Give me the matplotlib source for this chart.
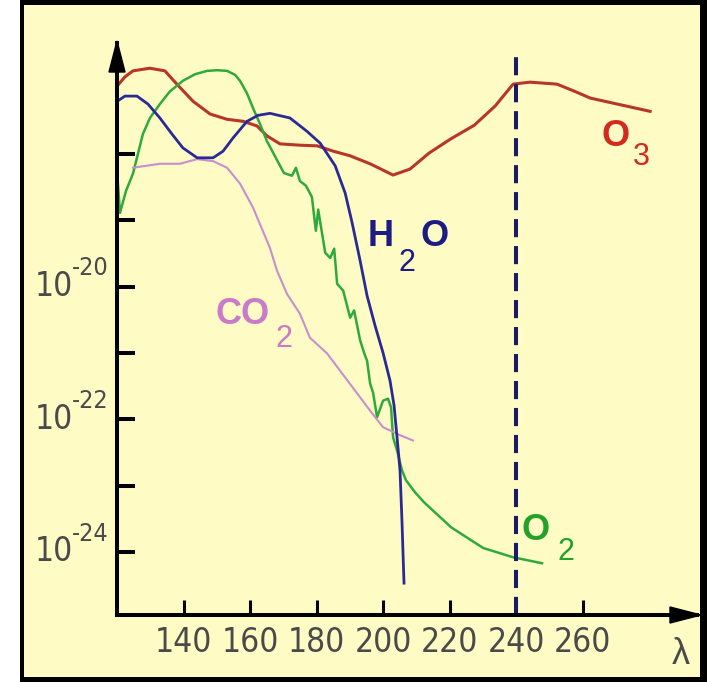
import matplotlib
matplotlib.use('Agg')
import matplotlib.pyplot as plt
from matplotlib.patches import Rectangle, Polygon
from matplotlib.transforms import blended_transform_factory
from matplotlib import font_manager

# wavelength (nm) and log10 of cross section
o3_wl = [120.0, 122.4, 124.8, 129.9, 134.4, 138.0, 142.9, 148.0, 153.1, 157.9, 162.1, 165.1,
         169.0, 175.0, 180.2, 185.0, 190.1, 196.1, 203.0, 208.1, 213.8, 220.2, 227.4, 233.7,
         239.1, 244.2, 252.3, 257.7, 262.3, 270.4, 280.3]
o3_log = [-16.98, -16.84, -16.75, -16.71, -16.75, -16.95, -17.21, -17.40, -17.48, -17.51, -17.58, -17.73,
          -17.85, -17.87, -17.88, -17.96, -18.03, -18.15, -18.32, -18.23, -17.99, -17.78, -17.57, -17.28,
          -16.95, -16.92, -16.95, -17.06, -17.16, -17.25, -17.36]

h2o_wl = [120.0, 122.4, 126.0, 129.3, 132.9, 136.5, 139.8, 144.1, 148.9, 151.9, 154.9, 159.1, 162.4,
          166.0, 172.0, 177.1, 181.1, 185.6, 188.6, 190.7, 193.1, 195.2, 197.6, 200.0, 202.1, 203.3,
          204.2, 205.1, 205.7, 206.3]
h2o_log = [-17.21, -17.13, -17.13, -17.25, -17.46, -17.70, -17.91, -18.06, -18.06, -17.96, -17.76, -17.51, -17.42,
           -17.39, -17.46, -17.66, -17.84, -18.18, -18.59, -19.04, -19.61, -20.14, -20.59, -21.00, -21.42, -21.79,
           -22.27, -22.77, -23.55, -24.47]

co2_wl = [124.8, 132.9, 138.9, 144.1, 148.9, 153.1, 157.0, 160.9, 166.0, 168.1, 171.1, 175.0, 178.0,
          183.2, 187.1, 192.2, 196.1, 200.0, 205.1, 209.0]
co2_log = [-18.21, -18.15, -18.15, -18.08, -18.11, -18.21, -18.45, -18.81, -19.42, -19.76, -20.11, -20.41, -20.77,
           -21.01, -21.27, -21.61, -21.87, -22.12, -22.24, -22.32]

o2_wl = [120.0, 120.9, 122.7, 124.8, 127.8, 129.9, 132.9, 135.9, 139.8, 143.5, 147.1, 150.1, 153.1, 155.5,
         157.0, 159.1, 160.9, 163.0, 165.1, 170.2, 172.6, 173.8, 175.0, 176.8, 178.6, 179.8, 180.5, 182.6,
         184.1, 185.3, 186.2, 188.0, 190.1, 191.3, 193.1, 194.3, 195.2, 196.1, 197.0, 198.2, 200.0, 201.5,
         202.4, 203.0, 204.2, 205.7, 206.9, 209.6, 212.3, 220.5, 230.1, 239.1, 247.8]
o2_log = [-18.26, -18.89, -18.56, -18.30, -17.70, -17.46, -17.25, -17.06, -16.90, -16.80, -16.75, -16.74, -16.75, -16.81,
          -16.90, -17.09, -17.31, -17.55, -17.81, -18.29, -18.33, -18.21, -18.41, -18.48, -18.65, -19.16, -18.84, -19.49,
          -19.57, -19.43, -19.96, -20.06, -20.47, -20.36, -20.81, -21.00, -21.12, -21.46, -21.60, -21.97, -21.72, -21.69,
          -21.82, -22.27, -22.47, -22.77, -22.92, -23.10, -23.25, -23.63, -23.94, -24.08, -24.17]

x_ticks = [140, 160, 180, 200, 220, 240, 260]
y_decades = [-24, -23, -22, -21, -20, -19, -18]
y_labelled = [-24, -22, -20]
dashed_wl = 240

W, H = 707, 682
sans = ['Liberation Sans', 'DejaVu Sans']
grey = '#4a4a4a'

# narrow face for the numbers
num_font = font_manager.FontProperties(family='DejaVu Sans', stretch='condensed')


def px(x, y):
    return x / W, 1 - y / H


fig = plt.figure(figsize=(W / 100, H / 100), dpi=100, facecolor='white')

# black frame + pale yellow panel
fig.patches.append(Rectangle(px(20, 682), (W - 20) / W, 1, transform=fig.transFigure,
                             facecolor='black', edgecolor='none', zorder=-10))
fig.patches.append(Rectangle(px(24, 677), (700 - 24) / W, (677 - 5) / H, transform=fig.transFigure,
                             facecolor='#fffbc4', edgecolor='none', zorder=-9))

ax = fig.add_axes([117 / W, (H - 615) / H, (697 - 117) / W, (615 - 43) / H])
ax.set_facecolor('none')

ax.plot(o3_wl, [10 ** v for v in o3_log], color='#b8352a', lw=2.2)
ax.plot(o2_wl, [10 ** v for v in o2_log], color='#2eaa3c', lw=1.8)
ax.plot(co2_wl, [10 ** v for v in co2_log], color='#c98ed0', lw=1.5)
ax.plot(h2o_wl, [10 ** v for v in h2o_log], color='#2a2a96', lw=2.0)
ax.axvline(dashed_wl, ymax=0.988, color='#1a1a66', lw=2.9, dashes=(4.5, 2.2))

ax.set_yscale('log')
ax.set_xlim(120, 294.4)
ax.set_ylim(10 ** -24.95, 10 ** -16.33)

for s in ['top', 'right']:
    ax.spines[s].set_visible(False)
for s in ['left', 'bottom']:
    ax.spines[s].set_linewidth(2.9)
    ax.spines[s].set_color('black')

ax.set_xticks(x_ticks)
ax.set_xticklabels([str(t) for t in x_ticks], fontproperties=num_font, fontsize=24, color=grey)
ax.tick_params(axis='x', direction='in', length=11, width=2.2, pad=8)

ax.set_yticks([10.0 ** e for e in y_decades])
ax.yaxis.set_minor_locator(matplotlib.ticker.NullLocator())
ax.set_yticklabels([])
ax.tick_params(axis='y', direction='in', length=13, width=2.9)

# 10^n labels drawn by hand so the exponent sits high like the original
tr = blended_transform_factory(ax.transAxes, ax.transData)
for e in y_labelled:
    ax.text(-0.076, 10.0 ** e, '10', transform=tr, ha='right', va='center',
            fontproperties=num_font, fontsize=24, color=grey)
    ax.text(-0.078, 10.0 ** (e + 0.17), str(e), transform=tr, ha='left', va='baseline',
            fontproperties=num_font, fontsize=18, color=grey)

# arrow heads
fig.patches.append(Polygon([px(117, 41), px(109, 72), px(125, 72)], closed=True,
                           transform=fig.transFigure, facecolor='black', edgecolor='black'))
fig.patches.append(Polygon([px(701, 615), px(670, 607), px(670, 623)], closed=True,
                           transform=fig.transFigure, facecolor='black', edgecolor='black'))

fig.text(*px(681, 655), '\u03bb', ha='center', va='center', family=sans, fontsize=26, color=grey)


# species labels
def label(x, y, s, c, size, bold):
    fig.text(*px(x, y), s, ha='center', va='center', color=c, family=sans,
             fontsize=size, fontweight='bold' if bold else 'normal')


label(381, 237, 'H', '#1c1c82', 26, True)
label(407, 263, '2', '#1c1c82', 22, False)
label(435, 237, 'O', '#1c1c82', 26, True)

label(243, 315, 'CO', '#c97ac9', 26, True)
label(284, 339, '2', '#c97ac9', 22, False)

label(616, 137, 'O', '#d42a1e', 26, True)
label(641, 157, '3', '#d42a1e', 22, False)

label(536, 530, 'O', '#22a22a', 26, True)
label(566, 552, '2', '#22a22a', 22, False)

fig.savefig('out.png', dpi=100, facecolor=fig.get_facecolor())
